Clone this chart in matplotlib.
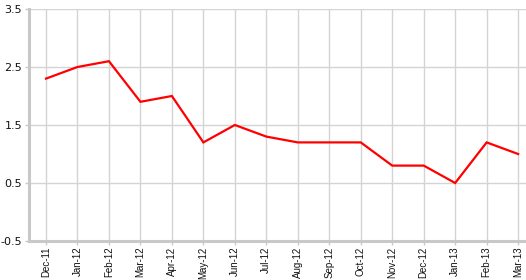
import numpy as np
import matplotlib
matplotlib.use('Agg')
import matplotlib.pyplot as plt

months = ['Dec-11', 'Jan-12', 'Feb-12', 'Mar-12', 'Apr-12', 'May-12', 'Jun-12', 'Jul-12',
          'Aug-12', 'Sep-12', 'Oct-12', 'Nov-12', 'Dec-12', 'Jan-13', 'Feb-13', 'Mar-13']
values = [2.3, 2.5, 2.6, 1.9, 2.0, 1.2, 1.5, 1.3, 1.2, 1.2, 1.2, 0.8, 0.8, 0.5, 1.2, 1.0]
yticks = [-0.5, 0.5, 1.5, 2.5, 3.5]

W, H = 526, 280
fig = plt.figure(figsize=(W / 100, H / 100), dpi=100)
ax = fig.add_axes([29 / W, 1 - 241 / H, (W - 29) / W, (241 - 9) / H])

x = np.arange(len(months))
ax.plot(x, values, color='#ff0000', linewidth=1.6, zorder=3, solid_joinstyle='miter')

ax.set_xlim(-0.54, len(months) - 1 + 0.25)
ax.set_ylim(-0.5, 3.5)
ax.set_xticks(x)
ax.set_xticklabels(months, rotation=90, fontsize=7, family='Liberation Sans', va='top')
ax.set_yticks(yticks)
ax.set_yticklabels(['%.1f' % v for v in yticks], fontsize=8, family='DejaVu Sans')

ax.grid(True, color='#d4d4d4', linewidth=1.0)
ax.set_axisbelow(True)
for s in ['top', 'right']:
    ax.spines[s].set_visible(False)
for s in ['left', 'bottom']:
    ax.spines[s].set_color('#c8c8c8')
    ax.spines[s].set_linewidth(2.2)
ax.tick_params(axis='both', colors='#c8c8c8', labelcolor='#111111', length=3, width=1)
ax.tick_params(axis='y', pad=2)
ax.tick_params(axis='x', pad=1)

fig.savefig('out.png', dpi=100)
